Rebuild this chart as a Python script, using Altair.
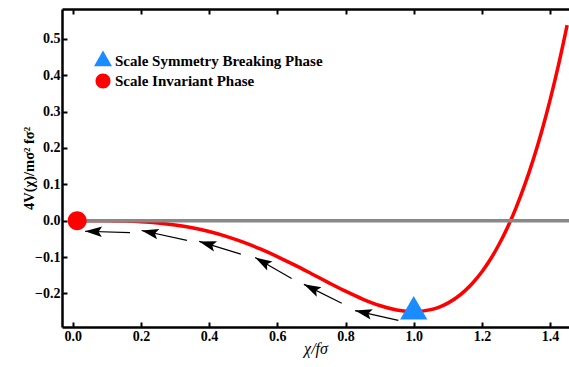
import math
import altair as alt
import pandas as pd

# ---------------- data ----------------
curve_x = [0.0, 0.05, 0.1, 0.15, 0.2, 0.25, 0.3, 0.35, 0.4, 0.45, 0.5, 0.55, 0.6,
           0.65, 0.7, 0.75, 0.8, 0.85, 0.9, 0.95, 1.0, 1.05, 1.075, 1.1, 1.125,
           1.15, 1.175, 1.2, 1.225, 1.25, 1.275, 1.3, 1.325, 1.35, 1.375, 1.4,
           1.425, 1.45]
curve_y = [0.0, -0.00002, -0.00026, -0.00109, -0.00297, -0.00639, -0.01178,
           -0.01951, -0.02986, -0.04300, -0.05895, -0.07758, -0.09860, -0.12153,
           -0.14567, -0.17013, -0.19379, -0.21533, -0.23315, -0.24540, -0.25000,
           -0.24457, -0.23729, -0.22648, -0.21179, -0.19281, -0.16913, -0.14034,
           -0.10597, -0.06557, -0.01863, 0.03531, 0.09681, 0.16641, 0.24467,
           0.33219, 0.42954, 0.53736]

zero_x = [0.0, 1.5]
zero_y = [0.0, 0.0]

phases = ["Scale Symmetry Breaking Phase", "Scale Invariant Phase"]
phase_x = [1.0, 0.013]
phase_y = [-0.25, 0.0]

arrow_tail_x = [0.955, 0.789, 0.642, 0.493, 0.335, 0.168]
arrow_tail_y = [-0.274, -0.227, -0.159, -0.092, -0.054, -0.033]
arrow_tip_x = [0.828, 0.678, 0.535, 0.371, 0.202, 0.036]
arrow_tip_y = [-0.247, -0.175, -0.101, -0.057, -0.027, -0.029]

x_ticks = [0.0, 0.2, 0.4, 0.6, 0.8, 1.0, 1.2, 1.4]
y_ticks = [-0.2, -0.1, 0.0, 0.1, 0.2, 0.3, 0.4, 0.5]

# ---------------- layout ----------------
W, H = 507, 318
XMIN, XMAX = -0.0314, 1.4554
YMIN, YMAX = -0.2922, 0.5818
kx = W / (XMAX - XMIN)
ky = H / (YMAX - YMIN)

FONT = "Liberation Serif"
TRI = "M-1,0.577L1,0.577L0,-1.155Z"
CIRC = "M0.833,0A0.833,0.833 0 1,1 -0.833,0A0.833,0.833 0 1,1 0.833,0Z"
HEAD = "M0,0L0.62,2L0,1.6L-0.62,2Z"

curve_df = pd.DataFrame({"x": curve_x, "y": curve_y})
zero_df = pd.DataFrame({"x": zero_x, "y": zero_y})
phase_df = pd.DataFrame({"phase": phases, "x": phase_x, "y": phase_y,
                         "sz": [745, 520]})

angles = []
for tx, ty, hx, hy in zip(arrow_tail_x, arrow_tail_y, arrow_tip_x, arrow_tip_y):
    dx = (hx - tx) * kx
    dy = -(hy - ty) * ky
    angles.append(math.degrees(math.atan2(dx, -dy)) % 360)
arrow_df = pd.DataFrame({"x": arrow_tail_x, "y": arrow_tail_y,
                         "x2": arrow_tip_x, "y2": arrow_tip_y, "ang": angles})

xs = alt.Scale(domain=[XMIN, XMAX], nice=False, zero=False)
ys = alt.Scale(domain=[YMIN, YMAX], nice=False, zero=False)

common_tick = dict(ticks=True, tickSize=5, tickWidth=2, tickColor="black",
                   labels=False, domain=False, grid=False, title=None)

# main curve with labelled bottom/left axes
curve = alt.Chart(curve_df).mark_line(color="#ff0000", strokeWidth=3.5, clip=True,
                                      interpolate="monotone").encode(
    x=alt.X("x:Q", scale=xs, axis=alt.Axis(
        orient="bottom", values=x_ticks, format=".1f", ticks=False, grid=False,
        domain=True, domainColor="black", domainWidth=2.5,
        labelFont=FONT, labelFontWeight="bold", labelFontSize=14,
        labelColor="black", labelPadding=2,
        title="χ/fσ", titleFont=FONT, titleFontStyle="italic",
        titleFontWeight="normal", titleFontSize=16, titleColor="black",
        titleBaseline="alphabetic", titleY=26)),
    y=alt.Y("y:Q", scale=ys, axis=alt.Axis(
        orient="left", values=y_ticks, format=".1f", ticks=False, grid=False,
        domain=True, domainColor="black", domainWidth=2.5,
        labelFont=FONT, labelFontWeight="bold", labelFontSize=14,
        labelColor="black", labelPadding=2,
        title="4V(χ)/mσ² fσ²", titleFont=FONT, titleFontWeight="bold",
        titleFontSize=14.5, titleColor="black", titleAngle=270,
        titleBaseline="alphabetic", titleX=-29, titleY=H / 2)),
)

# gray zero line; carries inward ticks on bottom and left edges
zero = alt.Chart(zero_df).mark_line(color="#888888", strokeWidth=3.5, clip=True).encode(
    x=alt.X("x:Q", scale=xs, axis=alt.Axis(orient="top", offset=-H,
                                           values=x_ticks, **common_tick)),
    y=alt.Y("y:Q", scale=ys, axis=alt.Axis(orient="right", offset=-W,
                                           values=y_ticks, **common_tick)),
)

# arrows
shafts = alt.Chart(arrow_df).mark_rule(color="black", strokeWidth=1.2).encode(
    x=alt.X("x:Q", scale=xs, axis=None),
    y=alt.Y("y:Q", scale=ys, axis=None),
    x2="x2:Q",
    y2="y2:Q",
)
heads = alt.Chart(arrow_df).mark_point(filled=True, opacity=1, color="black",
                                       shape=HEAD, size=289).encode(
    x=alt.X("x2:Q", scale=xs, axis=None),
    y=alt.Y("y2:Q", scale=ys, axis=None),
    angle=alt.Angle("ang:Q", scale=None),
)

# phase markers with legend; carries top frame line and inward top ticks
points = alt.Chart(phase_df).mark_point(filled=True, opacity=1).encode(
    x=alt.X("x:Q", scale=xs, axis=alt.Axis(
        orient="bottom", offset=-H, values=x_ticks, ticks=True, tickSize=5,
        tickWidth=2, tickColor="black", labels=False, domain=True,
        domainColor="black", domainWidth=2.5, grid=False, title=None)),
    y=alt.Y("y:Q", scale=ys, axis=None),
    color=alt.Color("phase:N", scale=alt.Scale(domain=phases,
                                               range=["#1a8cff", "#ff0000"]),
                    legend=alt.Legend(
                        title=None, orient="none", legendX=32, legendY=43,
                        padding=0, symbolSize=324, symbolOpacity=1,
                        symbolStrokeWidth=0, labelFont=FONT,
                        labelFontWeight="bold", labelFontSize=15,
                        labelColor="black", labelOffset=3, rowPadding=3,
                        labelLimit=400)),
    shape=alt.Shape("phase:N", scale=alt.Scale(domain=phases, range=[TRI, CIRC])),
    size=alt.Size("sz:Q", scale=None),
)

chart = alt.layer(curve, zero, shafts, heads, points).resolve_axis(
    x="independent", y="independent"
).properties(
    width=W, height=H,
    autosize=alt.AutoSizeParams(type="none"),
    padding={"left": 62, "top": 9, "right": 0, "bottom": 40},
    background="white",
).configure_view(strokeWidth=0)

chart.save("out.html", embed_options={"renderer": "svg", "actions": False})
